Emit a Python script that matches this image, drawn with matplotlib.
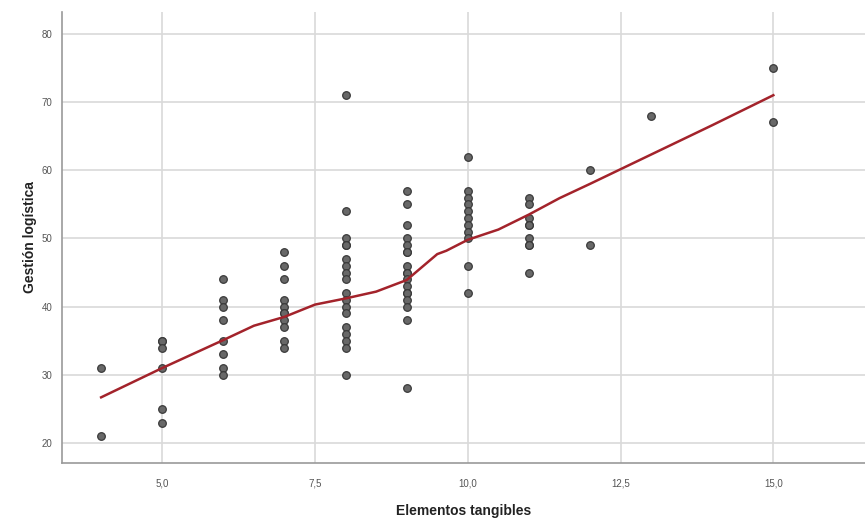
import numpy as np
import matplotlib.pyplot as plt

plt.rcParams['font.family'] = ['Liberation Sans', 'DejaVu Sans']

# Elementos tangibles (x) vs Gestion logistica (y), one list per x value
x_vals = [4, 5, 6, 7, 8, 9, 10, 11, 12, 13, 15]
y_groups = [
    [31, 21],
    [35, 35, 34, 31, 25, 23],
    [44, 41, 40, 38, 35, 33, 31, 30],
    [48, 46, 44, 41, 40, 39, 39, 38, 37, 35, 34],
    [71, 54, 50, 49, 49, 47, 46, 45, 44, 42, 41, 40, 39, 37, 36, 35, 34, 30],
    [57, 55, 52, 50, 49, 48, 48, 46, 45, 45, 44, 43, 42, 42, 41, 40, 38, 28],
    [62, 57, 56, 55, 54, 53, 52, 51, 50, 46, 42],
    [56, 55, 53, 52, 52, 50, 49, 49, 45],
    [60, 49],
    [68],
    [75, 67],
]

# loess fit line
fit_x = [4, 5, 6, 6.5, 7, 7.5, 8, 8.5, 9, 9.5, 9.65, 10, 10.5, 11, 11.5, 12, 13, 14, 15]
fit_y = [26.7, 31.0, 35.1, 37.2, 38.5, 40.3, 41.2, 42.2, 43.9, 47.7, 48.2, 49.8, 51.3, 53.5, 55.9, 58.0, 62.3, 66.6, 71.0]

xs = []
ys = []
for xv, grp in zip(x_vals, y_groups):
    xs += [xv] * len(grp)
    ys += grp

fig = plt.figure(figsize=(8.65, 5.22), dpi=100)
ax = fig.add_axes([0.0717, 0.113, 0.9283, 0.864])

ax.grid(True, color='#d9d9d9', linewidth=1.2)
ax.set_axisbelow(True)

ax.scatter(xs, ys, s=30, facecolor='#686868', edgecolor='#3a3a3a', linewidth=0.9, zorder=3)
ax.plot(fit_x, fit_y, color='#a3232b', linewidth=1.8, zorder=4)

ax.set_xlim(3.36, 16.5)
ax.set_ylim(17.07, 83.2)
ax.set_xticks([5, 7.5, 10, 12.5, 15])
ax.set_xticklabels(['5,0', '7,5', '10,0', '12,5', '15,0'])
ax.set_yticks([20, 30, 40, 50, 60, 70, 80])

for side in ['top', 'right']:
    ax.spines[side].set_visible(False)
for side in ['left', 'bottom']:
    ax.spines[side].set_color('#9a9a9a')
    ax.spines[side].set_linewidth(1.2)

ax.tick_params(axis='both', length=0, labelsize=7, labelcolor='#555555')
ax.tick_params(axis='y', pad=7)
ax.tick_params(axis='x', pad=11)

ax.set_xlabel('Elementos tangibles', fontsize=10, fontweight='bold', color='#222222', labelpad=11)
ax.set_ylabel('Gestión logística', fontsize=10, fontweight='bold', color='#222222', labelpad=3)

fig.savefig('out.png', dpi=100)
